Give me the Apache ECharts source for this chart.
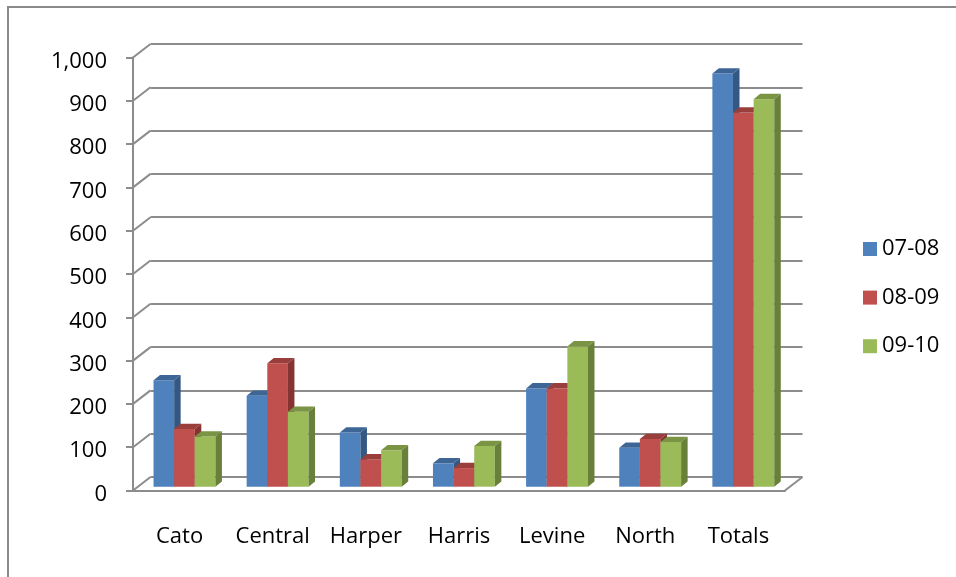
<!DOCTYPE html>
<html>
<head>
<meta charset="utf-8">
<title>Enrollment by campus</title>
<script src="https://cdn.jsdelivr.net/npm/echarts@6/dist/echarts.min.js"></script>
<style>
  html, body { margin: 0; padding: 0; background: #fff; }
  #chart { width: 956px; height: 577px; }
</style>
</head>
<body>
<div id="chart"></div>
<script>
// Campus categories and yearly values
const categories = ['Cato', 'Central', 'Harper', 'Harris', 'Levine', 'North', 'Totals'];
const seriesNames = ['07-08', '08-09', '09-10'];
const values0708 = [246, 210, 125, 54, 227, 90, 954];
const values0809 = [133, 285, 63, 43, 227, 110, 864];
const values0910 = [116, 173, 84, 94, 324, 103, 895];
const yTicks = [0, 100, 200, 300, 400, 500, 600, 700, 800, 900, 1000];

const seriesValues = [values0708, values0809, values0910];
const faceColors = [
  { front: '#4F81BD', top: '#3D6697', side: '#345883' },
  { front: '#C0504D', top: '#9A3E3C', side: '#863432' },
  { front: '#9BBB59', top: '#7A9444', side: '#68803A' }
];

// pseudo-3D geometry
const WALL_DX = 17.5, WALL_DY = -13.5;   // back wall offset
const BAR_DX = 6.5, BAR_DY = -5.3;       // bar depth
const GRID_W = 652, GRID_H = 433;
const FRONT_LEFT = 133, FRONT_TOP = 57.5;
const BAR_SHIFT_X = 4.9, BAR_SHIFT_Y = -3.8;
const LINE_COLOR = '#8c8c8c';
const FONT = '"Open Sans", "Noto Sans", sans-serif';

const chart = echarts.init(document.getElementById('chart'));

function barRenderer(k) {
  const col = faceColors[k];
  return function (params, api) {
    const cat = api.value(0);
    const top = api.coord([cat, api.value(1)]);
    const base = api.coord([cat, 0]);
    const band = api.size([1, 0])[0];
    const w = band * 0.2215;
    const x0 = top[0] - 1.5 * w + k * w;
    const x1 = x0 + w;
    const yt = top[1], yb = base[1];
    return {
      type: 'group',
      children: [
        { type: 'rect', shape: { x: x0, y: yt, width: w, height: yb - yt }, style: { fill: col.front } },
        { type: 'polygon', shape: { points: [[x0, yt], [x1, yt], [x1 + BAR_DX, yt + BAR_DY], [x0 + BAR_DX, yt + BAR_DY]] }, style: { fill: col.top } },
        { type: 'polygon', shape: { points: [[x1, yt], [x1, yb], [x1 + BAR_DX, yb + BAR_DY], [x1 + BAR_DX, yt + BAR_DY]] }, style: { fill: col.side } }
      ]
    };
  };
}

// diagonal connectors from the front axis to the back wall
function connectorRenderer(params, api) {
  const v = api.value(1);
  const y = api.coord([0, v])[1];
  const cs = params.coordSys;
  const children = [{
    type: 'line',
    shape: { x1: cs.x, y1: y, x2: cs.x + WALL_DX, y2: y + WALL_DY },
    style: { stroke: LINE_COLOR, lineWidth: 2 }
  }];
  if (v === 0) {
    children.push({
      type: 'line',
      shape: { x1: cs.x + cs.width, y1: y, x2: cs.x + cs.width + WALL_DX, y2: y + WALL_DY },
      style: { stroke: LINE_COLOR, lineWidth: 2 }
    });
  }
  return { type: 'group', children: children };
}

const yAxisBase = { type: 'value', min: 0, max: 1000, interval: 100 };

const option = {
  backgroundColor: '#ffffff',
  animation: false,
  graphic: [{
    type: 'rect',
    shape: { x: 8, y: 7, width: 1200, height: 900 },
    style: { fill: 'none', stroke: '#8a8a8a', lineWidth: 2 },
    silent: true
  }],
  legend: {
    orient: 'vertical',
    left: 858,
    top: 232,
    itemWidth: 14,
    itemHeight: 14,
    itemGap: 24.6,
    icon: 'rect',
    textStyle: { fontFamily: FONT, fontSize: 22, color: '#000', lineHeight: 24 },
    data: seriesNames.map((n, i) => ({ name: n, itemStyle: { color: faceColors[i].front } }))
  },
  grid: [
    { left: FRONT_LEFT, top: FRONT_TOP, width: GRID_W, height: GRID_H },
    { left: FRONT_LEFT + WALL_DX, top: FRONT_TOP + WALL_DY, width: GRID_W, height: GRID_H },
    { left: FRONT_LEFT + BAR_SHIFT_X, top: FRONT_TOP + BAR_SHIFT_Y, width: GRID_W, height: GRID_H }
  ],
  xAxis: [
    {
      gridIndex: 0, type: 'category', data: categories,
      axisLine: { lineStyle: { color: LINE_COLOR, width: 2 } },
      axisTick: { length: 8, lineStyle: { color: LINE_COLOR, width: 2 } },
      axisLabel: { interval: 0, margin: 35, fontFamily: FONT, fontSize: 22, color: '#000' }
    },
    { gridIndex: 1, type: 'category', data: categories, show: false },
    { gridIndex: 2, type: 'category', data: categories, show: false }
  ],
  yAxis: [
    Object.assign({}, yAxisBase, {
      gridIndex: 0,
      axisLine: { show: true, lineStyle: { color: LINE_COLOR, width: 2 } },
      axisTick: { show: true, length: 7, lineStyle: { color: LINE_COLOR, width: 2 } },
      splitLine: { show: false },
      axisLabel: {
        margin: 26,
        formatter: v => '{n|' + v.toLocaleString('en-US') + '}',
        rich: {
          n: { fontFamily: FONT, fontSize: 22, color: '#000', padding: [8, 0, 0, 0] }
        }
      }
    }),
    Object.assign({}, yAxisBase, {
      gridIndex: 1,
      axisLine: { show: false }, axisTick: { show: false }, axisLabel: { show: false },
      splitLine: { show: true, lineStyle: { color: LINE_COLOR, width: 2 } }
    }),
    Object.assign({}, yAxisBase, {
      gridIndex: 2, show: false, splitLine: { show: false }
    })
  ],
  series: [
    {
      type: 'custom', name: 'connectors', xAxisIndex: 0, yAxisIndex: 0,
      renderItem: connectorRenderer, silent: true, z: 1,
      data: yTicks.map(v => [0, v])
    }
  ].concat(seriesNames.map((name, k) => ({
    type: 'custom', name: name, xAxisIndex: 2, yAxisIndex: 2,
    itemStyle: { color: faceColors[k].front },
    renderItem: barRenderer(k), z: 3 + k,
    data: seriesValues[k].map((v, i) => [i, v])
  })))
};

chart.setOption(option);
</script>
</body>
</html>
